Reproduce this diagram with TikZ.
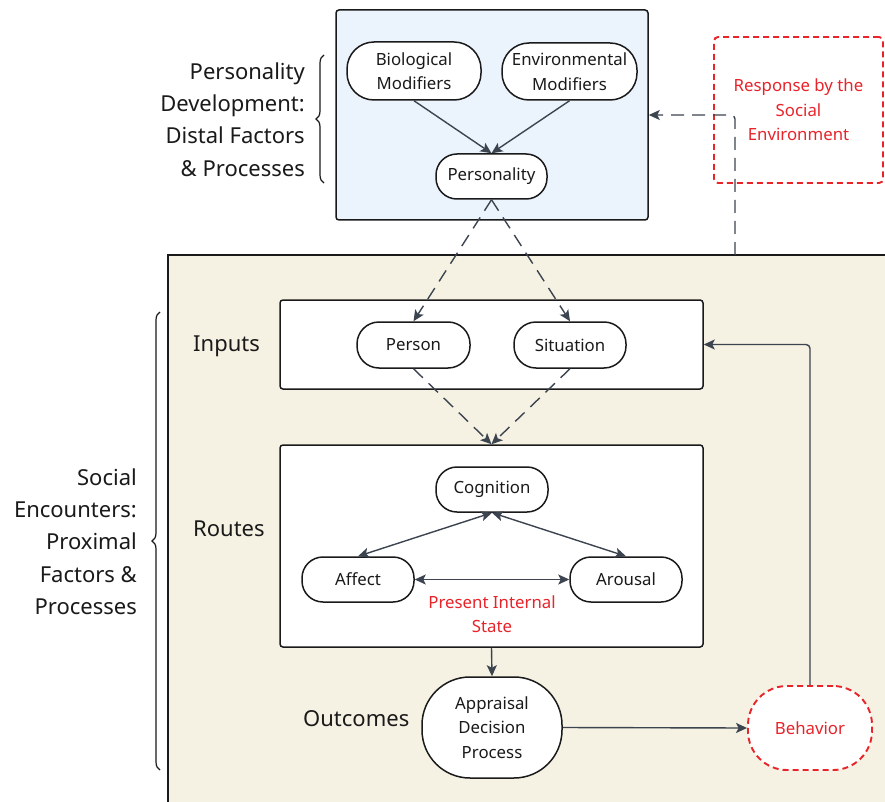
\documentclass[tikz,border=0pt]{standalone}
\usepackage{fontspec}
\setmainfont{Noto Sans}
\usetikzlibrary{arrows.meta,decorations.pathreplacing,calc}
\definecolor{inkc}{HTML}{1A1A1A}
\definecolor{arrowc}{HTML}{3C4450}
\definecolor{redc}{HTML}{E8232A}
\definecolor{bluefill}{HTML}{EBF3FD}
\definecolor{beige}{HTML}{F6F2E3}
\begin{document}
\begin{tikzpicture}[x=1pt,y=-1pt,
  nodefont/.style={font=\fontsize{16.8}{24.5}\selectfont},
  labfont/.style={font=\fontsize{22}{32.3}\selectfont},
  pill/.style={draw=inkc, line width=1.5pt, fill=white, align=center,
    inner sep=0pt, text=inkc, nodefont},
  panel/.style={draw=inkc, line width=1.5pt, rounded corners=3pt, inner sep=0pt},
  redbox/.style={draw=redc, line width=1.9pt, dash pattern=on 6pt off 4pt,
    fill=white, text=redc, align=center, inner sep=0pt, nodefont},
  arr/.style={draw=arrowc, line width=1.4pt, -{Stealth[length=11pt,width=10pt,inset=2.5pt]}},
  darr/.style={arr, dash pattern=on 13pt off 8pt},
  biarr/.style={draw=arrowc, line width=1.4pt,
    {Stealth[length=11pt,width=10pt,inset=2.5pt]}-{Stealth[length=11pt,width=10pt,inset=2.5pt]}},
  sidelab/.style={labfont, text=inkc, align=right, anchor=east, inner sep=0pt},
  rowlab/.style={labfont, text=inkc, anchor=west, inner sep=0pt},
  bracec/.style={draw=inkc, line width=1.2pt, decorate, decoration={brace, amplitude=8pt}}]

\useasboundingbox (0,0) rectangle (885,802);
\fill[white] (0,0) rectangle (885,802);

% proximal area
\fill[beige] (168,255) rectangle (895,812);
\draw[inkc, line width=1.5pt] (168,812) -- (168,255) -- (895,255);

% distal panel
\node[panel, fill=bluefill, minimum width=312pt, minimum height=210pt] (distal) at (492,115) {};
\node[pill, minimum width=134pt, minimum height=58pt, rounded corners=27pt] (bio) at (414,71) {Biological\\Modifiers};
\node[pill, minimum width=135pt, minimum height=57pt, rounded corners=27pt] (env) at (569.5,71.5) {Environmental\\Modifiers};
\node[pill, minimum width=111pt, minimum height=45pt, rounded corners=21pt] (pers) at (491.5,176.5) {Personality};
\draw[arr] (bio.south) -- (pers.north);
\draw[arr] (env.south) -- (pers.north);

% response by the social environment
\node[redbox, minimum width=169pt, minimum height=146pt, rounded corners=4pt] (resp) at (798.5,110) {Response by the\\Social\\Environment};

% inputs panel
\node[panel, fill=white, minimum width=423pt, minimum height=89pt] (inbox) at (491.5,344.5) {};
\node[pill, minimum width=113pt, minimum height=46pt, rounded corners=22pt] (person) at (413.5,345) {Person};
\node[pill, minimum width=112pt, minimum height=46pt, rounded corners=22pt] (situ) at (570,345) {Situation};

% routes panel
\node[panel, fill=white, minimum width=423pt, minimum height=202pt] (rbox) at (491.5,546) {};
\node[pill, minimum width=112pt, minimum height=45pt, rounded corners=21pt] (cog) at (492,489.5) {Cognition};
\node[pill, minimum width=112pt, minimum height=45pt, rounded corners=21pt] (aff) at (358,579.5) {Affect};
\node[pill, minimum width=112pt, minimum height=45pt, rounded corners=21pt] (aro) at (626,579.5) {Arousal};
\node[nodefont, text=redc, align=center, inner sep=0pt] (pis) at (492,614) {Present Internal\\State};

% outcomes
\node[pill, minimum width=140pt, minimum height=101pt, rounded corners=48pt] (appr) at (492,727.5) {Appraisal\\Decision\\Process};
\node[redbox, minimum width=124pt, minimum height=84pt, rounded corners=39pt] (behav) at (810,728) {Behavior};

% row and side labels
\node[rowlab] (inlab) at (193,346) {Inputs};
\node[rowlab] (rolab) at (193,529) {Routes};
\node[rowlab] (oulab) at (303,719) {Outcomes};
\node[sidelab] (distlab) at (305,119.5) {Personality\\Development:\\Distal Factors\\\& Processes};
\node[sidelab] (proxlab) at (137,541.5) {Social\\Encounters:\\Proximal\\Factors \&\\Processes};
\draw[bracec] (324,183) -- (324,55);
\draw[bracec] (160,770) -- (160,312);

% connectors
\draw[darr] (pers.south) -- (person.north);
\draw[darr] (pers.south) -- (situ.north);
\draw[darr] (person.south) -- (rbox.north);
\draw[darr] (situ.south) -- (rbox.north);
\draw[biarr] (cog.south) -- (aff.north);
\draw[biarr] (cog.south) -- (aro.north);
\draw[biarr] (aff.east) -- (aro.west);
\draw[arr] (rbox.south) -- (appr.north);
\draw[arr] (appr.east) -- (behav.west);
\draw[arr, rounded corners=4pt] (behav.north) |- (inbox.east);
\coordinate (fb) at (735,255);
\draw[darr, rounded corners=4pt] (fb) |- (distal.east);
\end{tikzpicture}
\end{document}
